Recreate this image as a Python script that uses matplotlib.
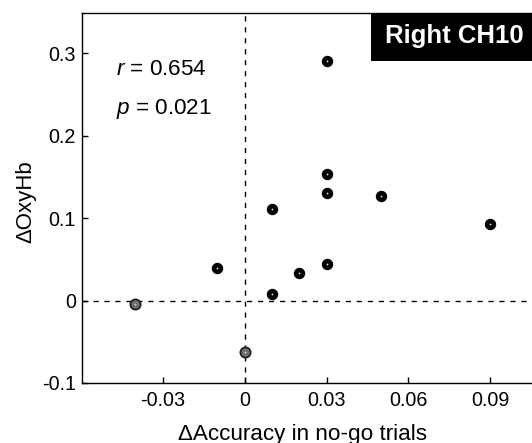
import matplotlib
matplotlib.use("Agg")
import matplotlib.pyplot as plt
from matplotlib.patches import Rectangle

plt.rcParams['font.family'] = ['Liberation Sans', 'DejaVu Sans']
plt.rcParams['mathtext.fontset'] = 'custom'
plt.rcParams['mathtext.rm'] = 'Liberation Sans'
plt.rcParams['mathtext.it'] = 'Liberation Sans:italic'

# data
acc_black = [-0.01, 0.01, 0.01, 0.02, 0.03, 0.03, 0.03, 0.03, 0.05, 0.09]
oxy_black = [0.040, 0.111, 0.008, 0.0335, 0.290, 0.153, 0.131, 0.044, 0.127, 0.093]
acc_gray = [-0.04, 0.0]
oxy_gray = [-0.004, -0.063]
xticks = [-0.03, 0, 0.03, 0.06, 0.09]
xticklabels = ['-0.03', '0', '0.03', '0.06', '0.09']
yticks = [-0.1, 0, 0.1, 0.2, 0.3]
yticklabels = ['-0.1', '0', '0.1', '0.2', '0.3']
title = 'Right CH10'
stats = ['$r$ = 0.654', '$p$ = 0.021']

W, H = 532, 443
fig = plt.figure(figsize=(W / 100, H / 100), dpi=100)

def fx(px):
    return px / W

def fy(py):
    return 1 - py / H

left, right, top, bottom = 82, 532, 13.3, 383
ax = fig.add_axes([fx(left), fy(bottom), fx(right - left), (bottom - top) / H])
ax.set_xlim(-0.0596, 0.1053)
ax.set_ylim(-0.1, 0.3483)

ax.axhline(0, color='black', lw=1.0, dashes=(3.7, 4.2), zorder=1)
ax.axvline(0, color='black', lw=1.0, dashes=(3.7, 4.2), zorder=1)

ax.plot(acc_black, oxy_black, 'o', ms=7.4, mfc='black', mec='black', mew=0.8, zorder=3)
ax.plot(acc_gray, oxy_gray, 'o', ms=7.4, mfc='#6e6e6e', mec='#1a1a1a', mew=1.2, zorder=3)
ax.plot(acc_black + acc_gray, oxy_black + oxy_gray, 'o', ms=1.3, mfc='#dddddd', mec='none', zorder=4)

ax.spines['right'].set_visible(False)
for s in ['left', 'bottom', 'top']:
    ax.spines[s].set_linewidth(1.0)

ax.set_xticks(xticks)
ax.set_xticklabels(xticklabels)
ax.set_yticks(yticks)
ax.set_yticklabels(yticklabels)
ax.tick_params(direction='in', length=4, width=1, labelsize=14.2)
ax.tick_params(axis='x', pad=5.5)
ax.tick_params(axis='y', pad=4.5)

fig.text(fx(302.5), fy(440), '\u0394Accuracy in no-go trials', fontsize=16.2, ha='center', va='baseline')
fig.text(fx(25.8), fy(201.7), '\u0394OxyHb', fontsize=16, ha='center', va='center', rotation=90)

fig.text(fx(116), fy(75), stats[0], fontsize=16.2, ha='left', va='baseline')
fig.text(fx(116), fy(114.3), stats[1], fontsize=16.2, ha='left', va='baseline')

fig.patches.append(Rectangle((fx(371), fy(60.7)), fx(532 - 371), (60.7 - 13.3) / H,
                             transform=fig.transFigure, facecolor='black', edgecolor='none', zorder=5))
fig.text(fx(454.7), fy(43.5), title, fontsize=18.5, fontweight='bold', color='white',
         ha='center', va='baseline', zorder=6)

fig.savefig('out.png', dpi=100)
